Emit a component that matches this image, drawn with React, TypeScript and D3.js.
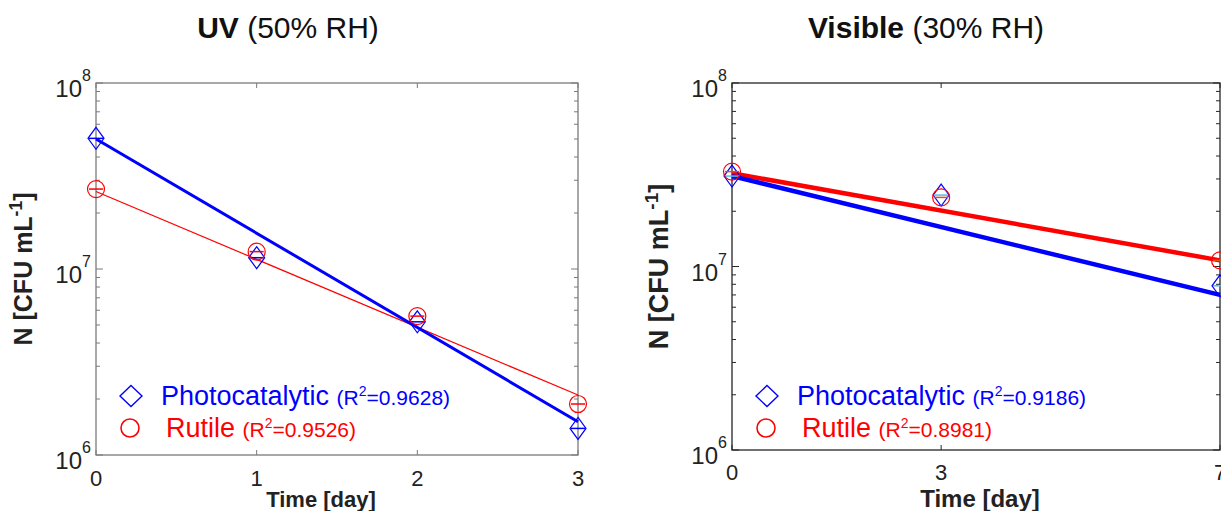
import React from 'react';
import * as d3 from 'd3';

// UV panel (50% RH)
const uvDays = [0, 1, 2, 3];
const uvPhoto = [5.04e7, 1.15e7, 5.2e6, 1.39e6];
const uvRutile = [2.69e7, 1.24e7, 5.58e6, 1.88e6];
const uvPhotoFit = [5.0e7, 1.51e6];
const uvRutileFit = [2.61e7, 2.1e6];
const uvR2 = ['0.9628', '0.9526'];

// Visible panel (30% RH)
const visDays = [0, 3, 7];
const visPhoto = [3.11e7, 2.45e7, 7.85e6];
const visRutile = [3.29e7, 2.38e7, 1.08e7];
const visPhotoFit = [3.11e7, 7.0e6];
const visRutileFit = [3.22e7, 1.08e7];
const visR2 = ['0.9186', '0.8981'];

const BLUE = '#0000ff';
const RED = '#ff0000';

type PanelProps = {
  left: number; right: number; top: number; bottom: number;
  days: number[]; photo: number[]; rutile: number[];
  photoFit: number[]; rutileFit: number[]; r2: string[];
  bold: string; rest: string; titleX: number; axisColor: string;
  photoW: number; rutileW: number; barColors: [string, string];
  labelSize: number; xLabelSize: number; xLabelX: number; tickDy: number;
};

const Panel = (p: PanelProps) => {
  const x = d3.scaleLinear().domain([0, d3.max(p.days) as number]).range([p.left, p.right]);
  const y = d3.scaleLog().domain([1e6, 1e8]).range([p.bottom, p.top]);
  const line = d3.line<[number, number]>().x(d => x(d[0])).y(d => y(d[1]));
  const xEnd = d3.max(p.days) as number;
  const majors = [1e6, 1e7, 1e8];
  const minors = y.ticks().filter(t => !majors.includes(t));

  const diamond = (px: number, py: number, w: number, h: number) =>
    `M${px},${py - h}L${px + w},${py}L${px},${py + h}L${px - w},${py}Z`;

  return (
    <g fontFamily="'Liberation Sans', Arial, sans-serif">
      <text x={p.titleX} y={38} textAnchor="middle" fontSize={30} fill="#111">
        <tspan fontWeight="bold">{p.bold}</tspan>
        <tspan>{p.rest}</tspan>
      </text>
      {/* axes box */}
      <rect x={p.left} y={p.top} width={p.right - p.left} height={p.bottom - p.top}
        fill="none" stroke={p.axisColor} strokeWidth={1.3} />
      {majors.map(t => (
        <g key={t}>
          <line x1={p.left} x2={p.left + 7} y1={y(t)} y2={y(t)} stroke={p.axisColor} />
          <line x1={p.right} x2={p.right - 7} y1={y(t)} y2={y(t)} stroke={p.axisColor} />
          <text x={p.left - 14} y={y(t) + 14} textAnchor="end" fontSize={24} fill="#222">10</text>
          <text x={p.left - 14} y={y(t) - 2} fontSize={16} fill="#222">{Math.round(Math.log10(t))}</text>
        </g>
      ))}
      {minors.map(t => (
        <g key={t}>
          <line x1={p.left} x2={p.left + 4} y1={y(t)} y2={y(t)} stroke={p.axisColor} />
          <line x1={p.right} x2={p.right - 4} y1={y(t)} y2={y(t)} stroke={p.axisColor} />
        </g>
      ))}
      {p.days.map(d => (
        <g key={d}>
          <line x1={x(d)} x2={x(d)} y1={p.bottom} y2={p.bottom - 5} stroke={p.axisColor} />
          <line x1={x(d)} x2={x(d)} y1={p.top} y2={p.top + 5} stroke={p.axisColor} />
          <text x={x(d)} y={p.bottom + p.tickDy} textAnchor="middle" fontSize={22} fill="#222">{d}</text>
        </g>
      ))}
      <text x={p.xLabelX} y={507} textAnchor="middle" fontSize={p.xLabelSize} fontWeight="bold" fill="#222">Time [day]</text>
      <text transform={`translate(${p.left - 64},${(p.top + p.bottom) / 2}) rotate(-90)`}
        textAnchor="middle" fontSize={p.labelSize} fontWeight="bold" fill="#222">
        N [CFU mL<tspan dy={-10} fontSize={p.labelSize * 0.7}>-1</tspan><tspan dy={10}>]</tspan>
      </text>

      {/* fitted lines */}
      <path d={line([[0, p.rutileFit[0]], [xEnd, p.rutileFit[1]]]) as string}
        fill="none" stroke={RED} strokeWidth={p.rutileW} />
      <path d={line([[0, p.photoFit[0]], [xEnd, p.photoFit[1]]]) as string}
        fill="none" stroke={BLUE} strokeWidth={p.photoW} />

      {/* data markers */}
      {p.days.map((d, i) => (
        <g key={'m' + d} fill="none" strokeWidth={1.2}>
          <path d={diamond(x(d), y(p.photo[i]), 8, 11)} stroke={BLUE} />
          <line x1={x(d) - 7} x2={x(d) + 7} y1={y(p.photo[i])} y2={y(p.photo[i])} stroke={p.barColors[0]} strokeWidth={1.5} />
          <circle cx={x(d)} cy={y(p.rutile[i])} r={8.5} stroke={RED} />
          <line x1={x(d) - 7} x2={x(d) + 7} y1={y(p.rutile[i])} y2={y(p.rutile[i])} stroke={p.barColors[1]} strokeWidth={1.5} />
        </g>
      ))}

      {/* legend */}
      <path d={diamond(p.left + 35, 396, 11, 10.5)} fill="none" stroke={BLUE} strokeWidth={1.4} />
      <text x={p.left + 65} y={405} fontSize={27} fill={BLUE}>
        Photocatalytic <tspan fontSize={21}>(R</tspan><tspan fontSize={14} dy={-9}>2</tspan><tspan fontSize={21} dy={9}>={p.r2[0]})</tspan>
      </text>
      <circle cx={p.left + 34} cy={428} r={9} fill="none" stroke={RED} strokeWidth={1.6} />
      <text x={p.left + 70} y={437} fontSize={27} fill={RED}>
        Rutile <tspan fontSize={21}>(R</tspan><tspan fontSize={14} dy={-9}>2</tspan><tspan fontSize={21} dy={9}>={p.r2[1]})</tspan>
      </text>
    </g>
  );
};

export default function App() {
  return (
    <svg width={1221} height={511} style={{position: 'absolute', left: 0, top: 0, background: '#fff'}}>
      <Panel left={96} right={578} top={83} bottom={455}
        days={uvDays} photo={uvPhoto} rutile={uvRutile}
        photoFit={uvPhotoFit} rutileFit={uvRutileFit} r2={uvR2}
        bold="UV" rest=" (50% RH)" titleX={288} axisColor="#7a7a7a"
        photoW={3} rutileW={1.2} barColors={[BLUE, RED]}
        labelSize={25} xLabelSize={22} xLabelX={321} tickDy={31} />
      <Panel left={732} right={1220} top={83} bottom={450}
        days={visDays} photo={visPhoto} rutile={visRutile}
        photoFit={visPhotoFit} rutileFit={visRutileFit} r2={visR2}
        bold="Visible" rest=" (30% RH)" titleX={926} axisColor="#262626"
        photoW={4.5} rutileW={4.5} barColors={['#4dbeee', '#d95319']}
        labelSize={27} xLabelSize={24} xLabelX={980} tickDy={30} />
    </svg>
  );
}
